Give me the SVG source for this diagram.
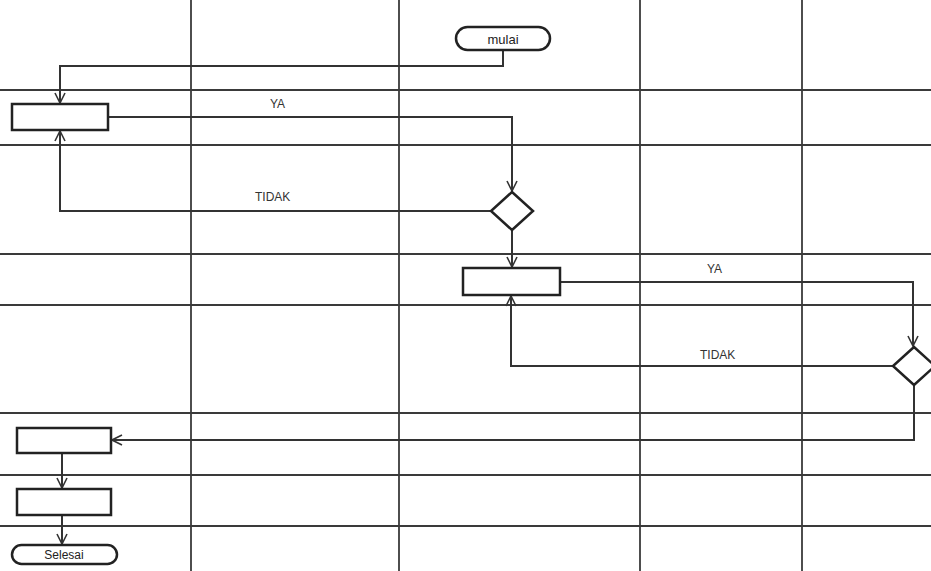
<svg xmlns="http://www.w3.org/2000/svg" width="931" height="571" viewBox="0 0 931 571">
<style>
.grid{stroke:#3a3a3a;stroke-width:1.8;fill:none}
.node{fill:#fff;stroke:#222;stroke-width:2.5}
.conn{stroke:#333;stroke-width:2;fill:none}
.lbl{font-family:"Liberation Sans",Arial,sans-serif;font-size:12px;fill:#333}
.ntxt{font-family:"Liberation Sans",Arial,sans-serif;font-size:13px;fill:#222;text-anchor:middle}
</style>
<defs>
<marker id="arr" viewBox="0 0 12 12" refX="11" refY="6" markerWidth="12" markerHeight="12" markerUnits="userSpaceOnUse" orient="auto">
<path d="M1,1 L11,6 L1,11" fill="none" stroke="#333" stroke-width="1.6"/>
</marker>
</defs>
<rect width="931" height="571" fill="#fff"/>
<g id="grid">
<line class="grid" x1="191" y1="0" x2="191" y2="571"/>
<line class="grid" x1="399" y1="0" x2="399" y2="571"/>
<line class="grid" x1="640" y1="0" x2="640" y2="571"/>
<line class="grid" x1="802" y1="0" x2="802" y2="571"/>
<line class="grid" x1="0" y1="90" x2="931" y2="90"/>
<line class="grid" x1="0" y1="145" x2="931" y2="145"/>
<line class="grid" x1="0" y1="254" x2="931" y2="254"/>
<line class="grid" x1="0" y1="305" x2="931" y2="305"/>
<line class="grid" x1="0" y1="413" x2="931" y2="413"/>
<line class="grid" x1="0" y1="475" x2="931" y2="475"/>
<line class="grid" x1="0" y1="526" x2="931" y2="526"/>
</g>
<g id="connectors">
<polyline class="conn" points="503,50 503,66 60,66 60,103" marker-end="url(#arr)"/>
<polyline class="conn" points="108,117 512,117 512,191" marker-end="url(#arr)"/>
<polyline class="conn" points="491,211 60,211 60,131" marker-end="url(#arr)"/>
<polyline class="conn" points="512,230 512,267" marker-end="url(#arr)"/>
<polyline class="conn" points="560,282 913,282 913,346" marker-end="url(#arr)"/>
<polyline class="conn" points="893,366 511,366 511,296" marker-end="url(#arr)"/>
<polyline class="conn" points="914,385 914,440 112,440" marker-end="url(#arr)"/>
<polyline class="conn" points="62,453 62,488" marker-end="url(#arr)"/>
<polyline class="conn" points="62,515 62,544" marker-end="url(#arr)"/>
<text class="lbl" x="270" y="108">YA</text>
<text class="lbl" x="255" y="201">TIDAK</text>
<text class="lbl" x="707" y="273">YA</text>
<text class="lbl" x="700" y="359">TIDAK</text>
</g>
<g id="mulai">
<rect class="node" x="456" y="27" width="94" height="23" rx="11.5"/>
<text class="ntxt" x="503" y="44">mulai</text>
</g>
<g id="act1"><rect class="node" x="12" y="104" width="96" height="26"/></g>
<g id="dec1"><polygon class="node" points="512,192 533,211 512,230 491,211"/></g>
<g id="act2"><rect class="node" x="463" y="268" width="97" height="27"/></g>
<g id="dec2"><polygon class="node" points="914,347 935,366 914,385 893,366"/></g>
<g id="act3"><rect class="node" x="17" y="428" width="94" height="25"/></g>
<g id="act4"><rect class="node" x="17" y="489" width="94" height="26"/></g>
<g id="selesai">
<rect class="node" x="12" y="545" width="105" height="19" rx="9.5"/>
<text class="ntxt" x="64" y="559" style="font-size:12px">Selesai</text>
</g>
</svg>
